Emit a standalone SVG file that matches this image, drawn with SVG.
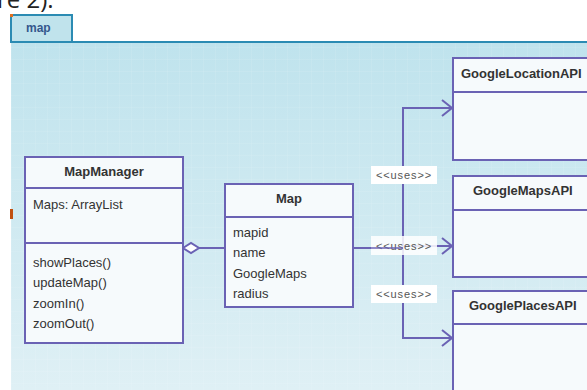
<svg xmlns="http://www.w3.org/2000/svg" width="587" height="390" viewBox="0 0 587 390">
<style>
.box{fill:#f6fafc;stroke:#6a62b4;stroke-width:2}
.div{stroke:#6a62b4;stroke-width:2}
.title{font-family:"Liberation Sans",Arial,sans-serif;font-size:13px;font-weight:bold;fill:#333}
.txt{font-family:"Liberation Sans",Arial,sans-serif;font-size:13px;fill:#333}
.lbl{font-family:"Liberation Sans",Arial,sans-serif;font-size:11px;letter-spacing:0.9px;fill:#555}
.conn{fill:none;stroke:#6a62b4;stroke-width:2}
.lblbg{fill:#ffffff}
</style>
<defs>
<linearGradient id="bg" x1="0" y1="0" x2="0" y2="1">
<stop offset="0" stop-color="#bfe3ed"/>
<stop offset="1" stop-color="#dff0f5"/>
</linearGradient>
<pattern id="grid" width="12" height="12" patternUnits="userSpaceOnUse">
<path d="M12 0V12M0 12H12" fill="none" stroke="#ffffff" stroke-opacity="0.15" stroke-width="1"/>
</pattern>
<marker id="open" markerWidth="12" markerHeight="18" refX="11" refY="9" orient="auto" markerUnits="userSpaceOnUse">
<path d="M1 1L11 9L1 17" fill="none" stroke="#6a62b4" stroke-width="2"/>
</marker>
</defs>
<rect width="587" height="390" fill="#ffffff"/>
<text x="-3" y="8" font-family="Open Sans, sans-serif" font-size="24" fill="#222">re 2).</text>
<rect x="11" y="42" width="576" height="348" fill="url(#bg)"/>
<rect x="11" y="42" width="576" height="348" fill="url(#grid)"/>
<rect x="11" y="15" width="61" height="27" fill="#c0e3ec" stroke="#2b8bb3" stroke-width="2"/>
<line x1="11" y1="42" x2="587" y2="42" stroke="#2b8bb3" stroke-width="2"/>
<rect x="10" y="14" width="3" height="3" fill="#e07020"/>
<rect x="10" y="209" width="3" height="10" fill="#c05010"/>
<text x="26" y="32" font-family="Liberation Sans, Arial, sans-serif" font-size="12" font-weight="bold" fill="#34578c">map</text>

<g id="connectors">
<line class="conn" x1="199" y1="248" x2="225" y2="248"/>
<path d="M183 248L191 243L199 248L191 253Z" fill="#ffffff" stroke="#6a62b4" stroke-width="2"/>
<line class="conn" x1="353" y1="248" x2="403" y2="248"/>
<path class="conn" d="M403 248V108H452" marker-end="url(#open)"/>
<path class="conn" d="M403 246H452" marker-end="url(#open)"/>
<path class="conn" d="M403 248V338H452" marker-end="url(#open)"/>
<rect class="lblbg" x="371" y="166" width="66" height="18"/>
<text class="lbl" x="404" y="179" text-anchor="middle">&lt;&lt;uses&gt;&gt;</text>
<rect class="lblbg" x="371" y="236" width="66" height="19" opacity="0.85"/>
<text class="lbl" x="404" y="250" text-anchor="middle">&lt;&lt;uses&gt;&gt;</text>
<line class="conn" x1="371" y1="248" x2="403" y2="248" opacity="0.7"/>
<rect class="lblbg" x="371" y="285" width="66" height="18"/>
<text class="lbl" x="404" y="298" text-anchor="middle">&lt;&lt;uses&gt;&gt;</text>
</g>

<g id="MapManager">
<rect class="box" x="25" y="157" width="158" height="186"/>
<line class="div" x1="25" y1="188" x2="183" y2="188"/>
<line class="div" x1="25" y1="243" x2="183" y2="243"/>
<text class="title" x="104" y="176" text-anchor="middle">MapManager</text>
<text class="txt" x="33" y="209">Maps: ArrayList</text>
<text class="txt" x="33" y="267">showPlaces()</text>
<text class="txt" x="33" y="287">updateMap()</text>
<text class="txt" x="33" y="308">zoomIn()</text>
<text class="txt" x="33" y="328">zoomOut()</text>
</g>

<g id="Map">
<rect class="box" x="225" y="184" width="128" height="123"/>
<line class="div" x1="225" y1="217" x2="353" y2="217"/>
<text class="title" x="289" y="203" text-anchor="middle">Map</text>
<text class="txt" x="233" y="237">mapid</text>
<text class="txt" x="233" y="257">name</text>
<text class="txt" x="233" y="278">GoogleMaps</text>
<text class="txt" x="233" y="298">radius</text>
</g>

<g id="GoogleLocationAPI">
<rect class="box" x="453" y="58" width="150" height="102"/>
<line class="div" x1="453" y1="92" x2="587" y2="92"/>
<text class="title" x="461" y="78">GoogleLocationAPI</text>
</g>

<g id="GoogleMapsAPI">
<rect class="box" x="453" y="176" width="150" height="101"/>
<line class="div" x1="453" y1="210" x2="587" y2="210"/>
<text class="title" x="473" y="195">GoogleMapsAPI</text>
</g>

<g id="GooglePlacesAPI">
<rect class="box" x="453" y="291" width="150" height="120"/>
<line class="div" x1="453" y1="324" x2="587" y2="324"/>
<text class="title" x="469" y="310">GooglePlacesAPI</text>
</g>
</svg>
